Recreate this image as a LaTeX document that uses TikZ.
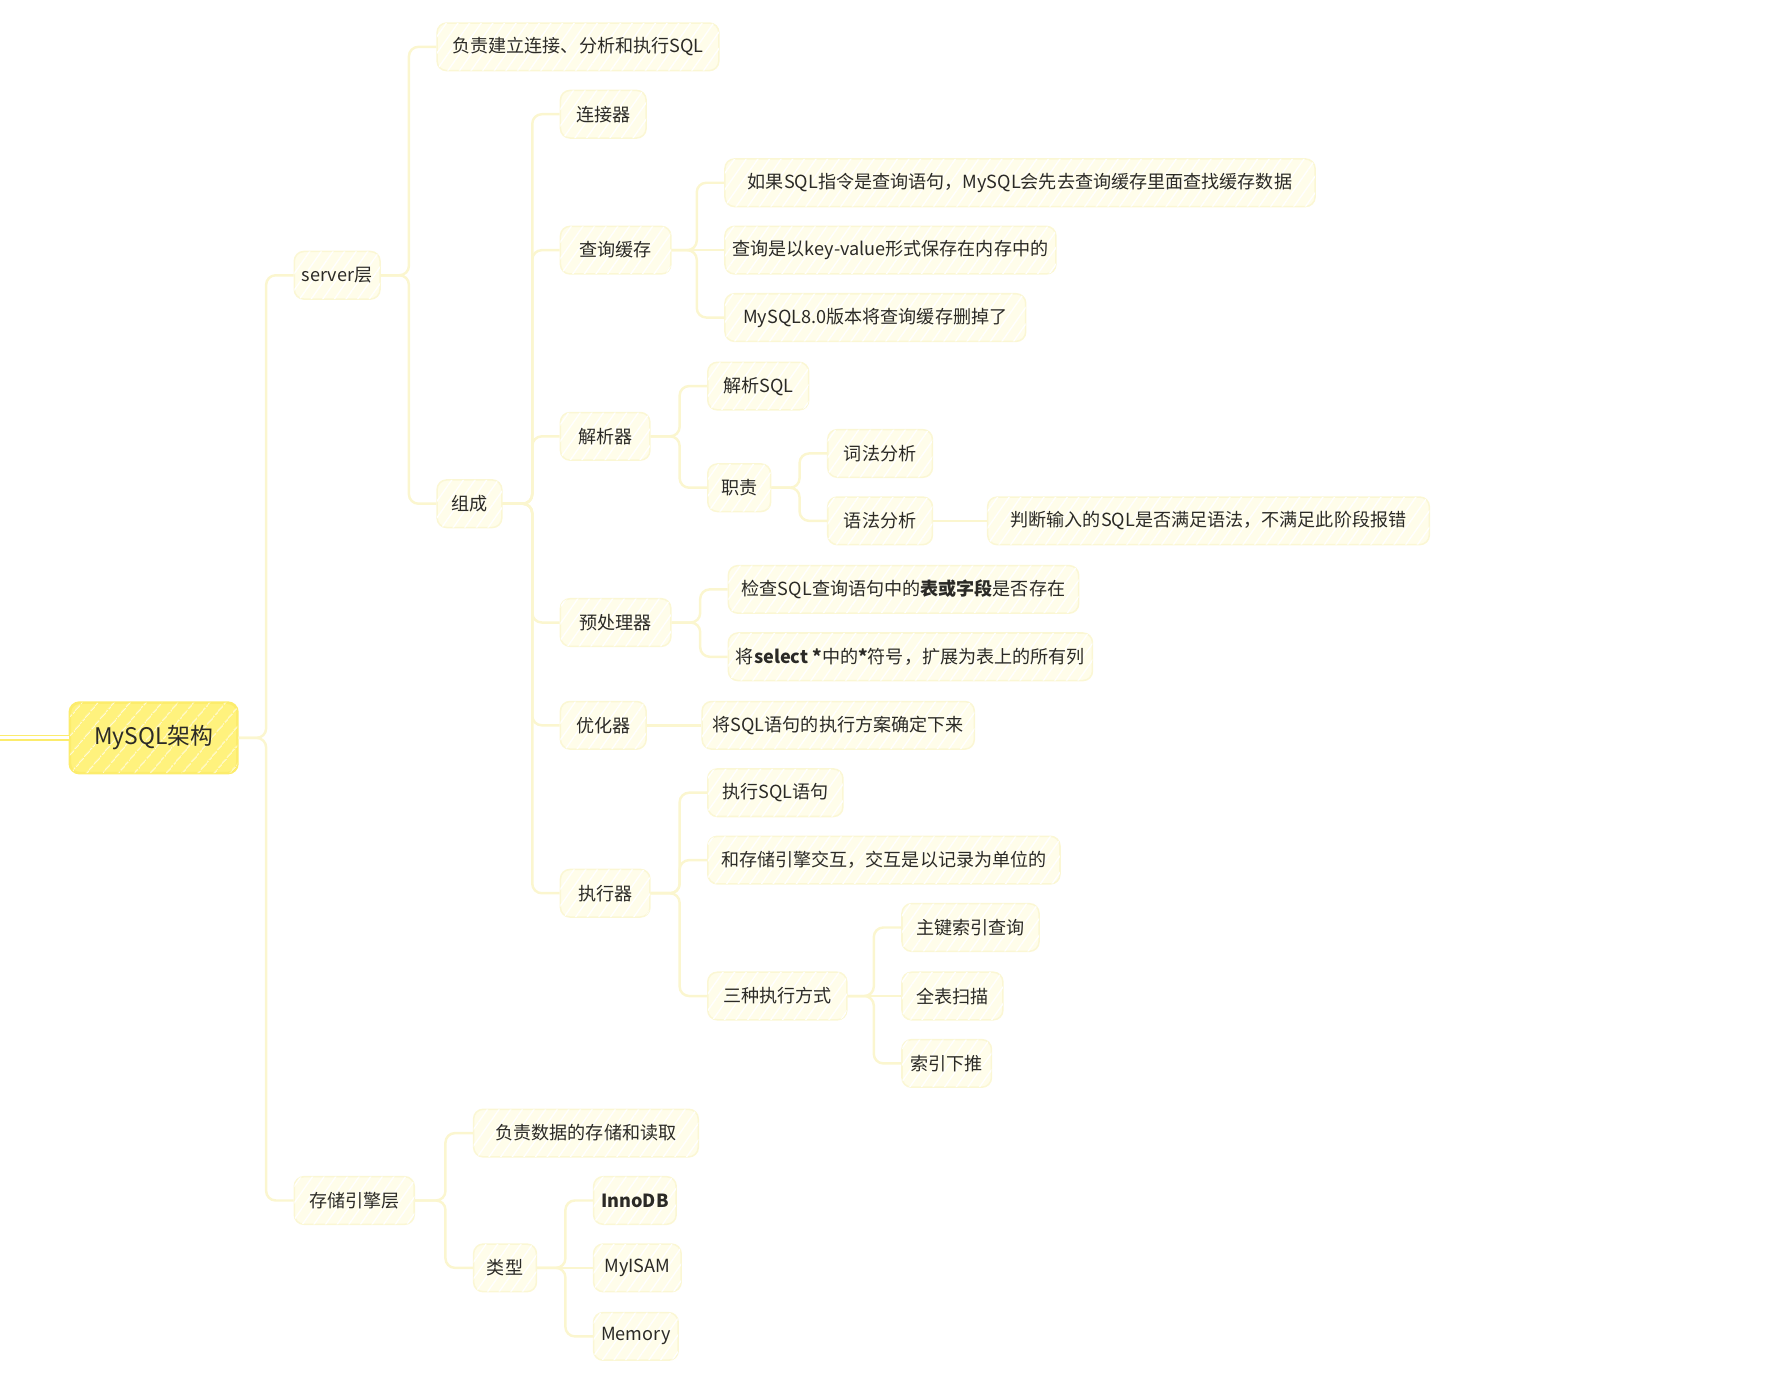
\documentclass[tikz,border=0pt]{standalone}
\usepackage{fontspec}
\setmainfont{Noto Sans CJK SC}
\usetikzlibrary{patterns.meta}
\definecolor{linkc}{HTML}{FBF6CF}
\definecolor{boxfill}{HTML}{FFFDEA}
\definecolor{boxline}{HTML}{FBF7D4}
\definecolor{rootfill}{HTML}{FFF27D}
\definecolor{rootline}{HTML}{FCEC6C}
\definecolor{ink}{HTML}{2B2A26}

\tikzset{
    topic/.style={draw=boxline, line width=0.8pt, fill=boxfill, rounded corners=5pt,
        anchor=west, minimum height=25pt, inner xsep=4pt, text=ink,
        font=\fontsize{9.5}{11}\selectfont,
        postaction={pattern={Lines[angle=55,distance=5pt,line width=0.7pt]}, pattern color=white}},
    root/.style={draw=rootline, line width=1.4pt, fill=rootfill, rounded corners=5pt,
        anchor=west, minimum height=37pt, text=ink, font=\fontsize{12}{14}\selectfont,
        postaction={pattern={Lines[angle=50,distance=6.5pt,line width=0.5pt]}, pattern color=white!70!rootfill}},
    link/.style={draw=linkc, line width=1.3pt, rounded corners=5pt}
}

\begin{document}
\begin{tikzpicture}[x=0.6pt, y=-0.6pt]
    \useasboundingbox (0,0) rectangle (1568,1203);

    % root and layers
    \node [root, minimum width=88pt] (root) at (60,646) {MySQL架构};
    \coordinate (lead) at (0,646);
    \node [topic, minimum width=45pt] (srv) at (257,241) {server层};
    \node [topic, minimum width=63pt] (eng) at (257,1051) {存储引擎层};

    % server layer
    \node [topic, minimum width=148pt] (duty) at (382,41) {负责建立连接、分析和执行SQL};
    \node [topic, minimum width=34pt] (comp) at (382,441) {组成};
    \node [topic, minimum width=45pt] (conn) at (490,100) {连接器};
    \node [topic, minimum width=58pt] (qc) at (490,219) {查询缓存};
    \node [topic, minimum width=47pt] (psr) at (490,382) {解析器};
    \node [topic, minimum width=58pt] (pre) at (490,545) {预处理器};
    \node [topic, minimum width=45pt] (opt) at (490,635) {优化器};
    \node [topic, minimum width=47pt] (exe) at (490,782) {执行器};

    % query cache
    \node [topic, minimum width=310pt] (qc1) at (634,160) {如果SQL指令是查询语句，MySQL会先去查询缓存里面查找缓存数据};
    \node [topic, minimum width=172pt] (qc2) at (634,219) {查询是以key-value形式保存在内存中的};
    \node [topic, minimum width=158pt] (qc3) at (634,278) {MySQL8.0版本将查询缓存删掉了};

    % parser
    \node [topic, minimum width=53pt] (ps1) at (619,338) {解析SQL};
    \node [topic, minimum width=33pt] (ps2) at (619,427) {职责};
    \node [topic, minimum width=55pt] (dy1) at (724,397) {词法分析};
    \node [topic, minimum width=55pt] (dy2) at (724,456) {语法分析};
    \node [topic, minimum width=232pt] (dy3) at (864,456) {判断输入的SQL是否满足语法，不满足此阶段报错};

    % preprocessor, optimizer
    \node [topic, minimum width=184pt] (pr1) at (637,516) {检查SQL查询语句中的\textbf{表或字段}是否存在};
    \node [topic, minimum width=185pt] (pr2) at (637,575) {将\textbf{select *}中的\textbf{*}符号，扩展为表上的所有列};
    \node [topic, minimum width=143pt] (op1) at (614,635) {将SQL语句的执行方案确定下来};

    % executor
    \node [topic, minimum width=71pt] (ex1) at (619,694) {执行SQL语句};
    \node [topic, minimum width=185pt] (ex2) at (619,753) {和存储引擎交互，交互是以记录为单位的};
    \node [topic, minimum width=73pt] (ex3) at (619,872) {三种执行方式};
    \node [topic, minimum width=72pt] (m1) at (789,812) {主键索引查询};
    \node [topic, minimum width=53pt] (m2) at (789,872) {全表扫描};
    \node [topic, minimum width=47pt] (m3) at (789,931) {索引下推};

    % storage engine layer
    \node [topic, minimum width=118pt] (st1) at (414,992) {负责数据的存储和读取};
    \node [topic, minimum width=33pt] (st2) at (414,1110) {类型};
    \node [topic, minimum width=38pt] (ty1) at (519,1051) {\textbf{InnoDB}};
    \node [topic, minimum width=46pt] (ty2) at (519,1110) {MyISAM};
    \node [topic, minimum width=42pt] (ty3) at (519,1170) {Memory};

    % links
    \draw [draw=rootline, line width=0.9pt, double=white, double distance=1.6pt] (lead) -- (root.west);
    \foreach \p/\c in {root/srv, root/eng, srv/duty, srv/comp,
            comp/conn, comp/qc, comp/psr, comp/pre, comp/opt, comp/exe,
            qc/qc1, qc/qc3, psr/ps1, psr/ps2, ps2/dy1, ps2/dy2,
            pre/pr1, pre/pr2, exe/ex1, exe/ex2, exe/ex3, ex3/m1, ex3/m3,
            eng/st1, eng/st2, st2/ty1, st2/ty3}{
        \draw [link] (\p.east) -| ([xshift=-14.4pt]\c.west) -- (\c.west);
    }
    \foreach \p/\c in {qc/qc2, opt/op1, dy2/dy3, ex3/m2, st2/ty2}{
        \draw [link] (\p.east) -- (\c.west);
    }
\end{tikzpicture}
\end{document}
